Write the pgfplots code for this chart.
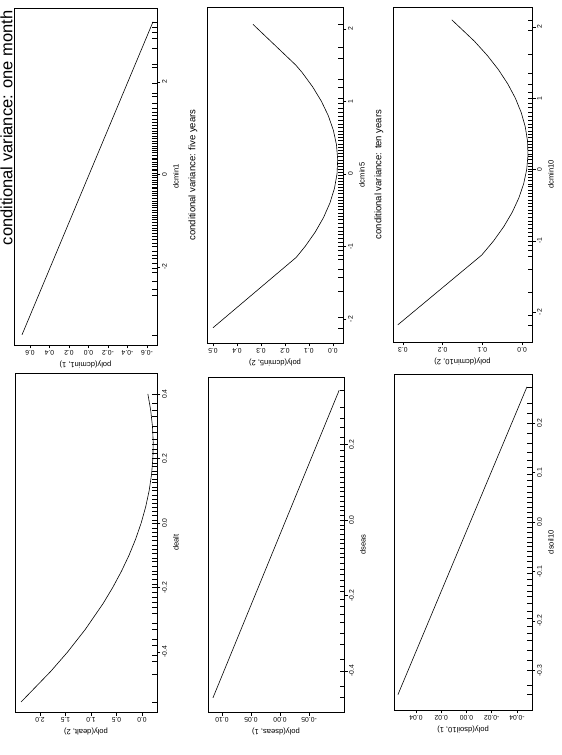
\documentclass[border=0pt]{standalone}
\usepackage{pgfplots}
\pgfplotsset{compat=1.18}
\usepackage{fontspec}
\setmainfont{Liberation Sans}
\pgfdeclareplotmark{rug}{\pgfpathmoveto{\pgfqpoint{0pt}{0pt}}\pgfpathlineto{\pgfqpoint{-4.5pt}{0pt}}\pgfusepathqstroke}
\newcommand\tickfont{\fontsize{6.8}{7.5}\selectfont}
\newcommand\labfont{\fontsize{7.6}{9}\selectfont}
\newcommand\titfont{\fontsize{9.5}{11}\selectfont}
\pgfplotsset{
  panel/.style={
    scale only axis, anchor=south west, x dir=reverse,
    axis line style={line width=0.7pt},
    xtick pos=left, ytick pos=right, yticklabel pos=right,
    tick align=outside, major tick length=3.5pt,
    tick style={black, line width=0.5pt},
    xticklabel style={font=\tickfont, rotate=180, anchor=south, inner sep=1.5pt},
    yticklabel style={font=\tickfont, rotate=90, anchor=north, inner sep=1.5pt},
    scaled ticks=false, clip=false,
  },
  curve/.style={black, line width=0.6pt, mark=none},
  rugs/.style={black, only marks, mark=rug, mark options={line width=0.5pt}},
}
\begin{document}
\begin{tikzpicture}
\path[use as bounding box] (0,0) rectangle (562pt,755pt);

% A: dcmin1
\begin{axis}[panel, at={(14pt,410pt)}, width=143pt, height=337pt,
  xmin=-0.703, xmax=0.764, ymin=-3.69, ymax=3.60,
  xtick={0.6,0.4,0.2,0,-0.2,-0.4,-0.6}, xticklabels={0.6,0.4,0.2,0.0,-0.2,-0.4,-0.6},
  ytick={-2,0,2}, yticklabels={-2,0,2}]
\addplot[curve] coordinates {(0.682,-3.47) (-0.662,3.30)};
\addplot[rugs] coordinates {
(-0.703,-3.47) (-0.703,-2.62) (-0.703,-2.48) (-0.703,-2.31) (-0.703,-2.12) (-0.703,-2.02) (-0.703,-1.93) (-0.703,-1.81) (-0.703,-1.74) (-0.703,-1.66) (-0.703,-1.55) (-0.703,-1.49) (-0.703,-1.41) (-0.703,-1.33) (-0.703,-1.27) (-0.703,-1.21) (-0.703,-1.16) (-0.703,-1.09) (-0.703,-1.04) (-0.703,-0.98) (-0.703,-0.93) (-0.703,-0.88) (-0.703,-0.82) (-0.703,-0.77) (-0.703,-0.71) (-0.703,-0.66) (-0.703,-0.62) (-0.703,-0.57) (-0.703,-0.51) (-0.703,-0.46) (-0.703,-0.41) (-0.703,-0.37) (-0.703,-0.31) (-0.703,-0.27) (-0.703,-0.22) (-0.703,-0.16) (-0.703,-0.12) (-0.703,-0.07) (-0.703,-0.02) (-0.703,0.03) (-0.703,0.08) (-0.703,0.12) (-0.703,0.17) (-0.703,0.21) (-0.703,0.26) (-0.703,0.32) (-0.703,0.36) (-0.703,0.41) (-0.703,0.47) (-0.703,0.52) (-0.703,0.56) (-0.703,0.61) (-0.703,0.67) (-0.703,0.72) (-0.703,0.78) (-0.703,0.83) (-0.703,0.88) (-0.703,0.94) (-0.703,0.99) (-0.703,1.06) (-0.703,1.12) (-0.703,1.19) (-0.703,1.27) (-0.703,1.34) (-0.703,1.43) (-0.703,1.55) (-0.703,1.68) (-0.703,1.76) (-0.703,1.98) (-0.703,2.31) (-0.703,2.38) (-0.703,2.72) (-0.703,2.95) (-0.703,3.08) (-0.703,3.18) (-0.703,3.30)};
\node[font=\labfont, yshift=-19pt, rotate=180] at (axis description cs:0.5,0) {poly(dcmin1, 1)};
\node[font=\labfont, xshift=19pt, rotate=90] at (axis description cs:1,0.5) {dcmin1};
\node[font=\fontsize{16.5}{18}\selectfont, xshift=-1.5pt, rotate=90, anchor=base, inner sep=0pt] at (axis description cs:0,0.644) {conditional variance: one month};
\end{axis}

% B: dcmin5
\begin{axis}[panel, at={(207pt,412pt)}, width=136pt, height=336pt,
  xmin=-0.042, xmax=0.525, ymin=-2.33, ymax=2.30,
  xtick={0.5,0.4,0.3,0.2,0.1,0}, xticklabels={0.5,0.4,0.3,0.2,0.1,0.0},
  ytick={-2,-1,0,1,2}, yticklabels={-2,-1,0,1,2}]
\addplot[curve] coordinates {(0.500,-2.12) (0.153,-1.15) (0.116,-1.0) (0.0735,-0.8) (0.039,-0.6) (0.0124,-0.4) (-0.0063,-0.2) (-0.0171,0) (-0.0199,0.2) (-0.0149,0.4) (-0.0019,0.6) (0.019,0.8) (0.0479,1.0) (0.0846,1.2) (0.129,1.4) (0.155,1.5) (0.333,2.06)};
\addplot[rugs] coordinates {
(-0.042,-2.12) (-0.042,-1.98) (-0.042,-1.62) (-0.042,-1.43) (-0.042,-1.31) (-0.042,-1.18) (-0.042,-1.12) (-0.042,-1.05) (-0.042,-0.99) (-0.042,-0.94) (-0.042,-0.88) (-0.042,-0.83) (-0.042,-0.79) (-0.042,-0.73) (-0.042,-0.68) (-0.042,-0.63) (-0.042,-0.59) (-0.042,-0.54) (-0.042,-0.49) (-0.042,-0.45) (-0.042,-0.41) (-0.042,-0.36) (-0.042,-0.32) (-0.042,-0.27) (-0.042,-0.23) (-0.042,-0.19) (-0.042,-0.14) (-0.042,-0.10) (-0.042,-0.06) (-0.042,-0.02) (-0.042,0.02) (-0.042,0.07) (-0.042,0.11) (-0.042,0.15) (-0.042,0.19) (-0.042,0.24) (-0.042,0.28) (-0.042,0.33) (-0.042,0.37) (-0.042,0.41) (-0.042,0.46) (-0.042,0.50) (-0.042,0.55) (-0.042,0.59) (-0.042,0.64) (-0.042,0.69) (-0.042,0.74) (-0.042,0.79) (-0.042,0.85) (-0.042,0.91) (-0.042,0.97) (-0.042,1.04) (-0.042,1.19) (-0.042,1.30) (-0.042,1.60) (-0.042,1.75) (-0.042,2.06)};
\node[font=\labfont, yshift=-19pt, rotate=180] at (axis description cs:0.5,0) {poly(dcmin5, 2)};
\node[font=\labfont, xshift=19pt, rotate=90] at (axis description cs:1,0.5) {dcmin5};
\node[font=\titfont, xshift=-14pt, rotate=90] at (axis description cs:0,0.5) {conditional variance: five years};
\end{axis}

% C: dcmin10
\begin{axis}[panel, at={(393pt,413pt)}, width=139pt, height=335pt,
  xmin=-0.025, xmax=0.325, ymin=-2.42, ymax=2.28,
  xtick={0.3,0.2,0.1,0}, xticklabels={0.3,0.2,0.1,0.0},
  ytick={-2,-1,0,1,2}, yticklabels={-2,-1,0,1,2}]
\addplot[curve] coordinates {(0.313,-2.18) (0.1015,-1.2) (0.0715,-1.0) (0.0459,-0.8) (0.0248,-0.6) (0.0082,-0.4) (-0.004,-0.2) (-0.0117,0) (-0.0149,0.2) (-0.0137,0.4) (-0.008,0.6) (0.0022,0.8) (0.0168,1.0) (0.0359,1.2) (0.0594,1.4) (0.0875,1.6) (0.120,1.8) (0.177,2.10)};
\addplot[rugs] coordinates {
(-0.025,-2.18) (-0.025,-2.05) (-0.025,-1.72) (-0.025,-1.40) (-0.025,-1.22) (-0.025,-1.13) (-0.025,-1.06) (-0.025,-1.00) (-0.025,-0.94) (-0.025,-0.88) (-0.025,-0.83) (-0.025,-0.77) (-0.025,-0.72) (-0.025,-0.67) (-0.025,-0.62) (-0.025,-0.57) (-0.025,-0.52) (-0.025,-0.47) (-0.025,-0.43) (-0.025,-0.38) (-0.025,-0.33) (-0.025,-0.29) (-0.025,-0.24) (-0.025,-0.20) (-0.025,-0.15) (-0.025,-0.11) (-0.025,-0.07) (-0.025,-0.03) (-0.025,0.01) (-0.025,0.05) (-0.025,0.09) (-0.025,0.14) (-0.025,0.18) (-0.025,0.22) (-0.025,0.27) (-0.025,0.31) (-0.025,0.36) (-0.025,0.40) (-0.025,0.45) (-0.025,0.49) (-0.025,0.54) (-0.025,0.59) (-0.025,0.64) (-0.025,0.69) (-0.025,0.75) (-0.025,0.81) (-0.025,0.87) (-0.025,0.93) (-0.025,1.00) (-0.025,1.08) (-0.025,1.20) (-0.025,1.35) (-0.025,1.62) (-0.025,1.95) (-0.025,2.10)};
\node[font=\labfont, yshift=-19pt, rotate=180] at (axis description cs:0.5,0) {poly(dcmin10, 2)};
\node[font=\labfont, xshift=19pt, rotate=90] at (axis description cs:1,0.5) {dcmin10};
\node[font=\titfont, xshift=-14pt, rotate=90] at (axis description cs:0,0.5) {conditional variance: ten years};
\end{axis}

% D: dealt
\begin{axis}[panel, at={(15pt,43pt)}, width=142pt, height=339pt,
  xmin=-0.294, xmax=2.49, ymin=-0.586, ymax=0.465,
  xtick={2,1.5,1,0.5,0}, xticklabels={2.0,1.5,1.0,0.5,0.0},
  ytick={-0.4,-0.2,0,0.2,0.4}, yticklabels={-0.4,-0.2,0.0,0.2,0.4}]
\addplot[curve] coordinates {(2.371,-0.555) (1.789,-0.46) (1.459,-0.4) (1.112,-0.33) (0.764,-0.25) (0.574,-0.2) (0.404,-0.15) (0.254,-0.1) (0.125,-0.05) (0.016,0) (-0.072,0.05) (-0.140,0.1) (-0.187,0.15) (-0.213,0.2) (-0.220,0.25) (-0.205,0.3) (-0.170,0.35) (-0.115,0.40)};
\addplot[rugs] coordinates {
(-0.294,-0.555) (-0.294,-0.47) (-0.294,-0.43) (-0.294,-0.41) (-0.294,-0.38) (-0.294,-0.36) (-0.294,-0.33) (-0.294,-0.31) (-0.294,-0.28) (-0.294,-0.26) (-0.294,-0.245) (-0.294,-0.23) (-0.294,-0.215) (-0.294,-0.2) (-0.294,-0.19) (-0.294,-0.175) (-0.294,-0.16) (-0.294,-0.15) (-0.294,-0.135) (-0.294,-0.12) (-0.294,-0.11) (-0.294,-0.095) (-0.294,-0.08) (-0.294,-0.07) (-0.294,-0.055) (-0.294,-0.04) (-0.294,-0.03) (-0.294,-0.015) (-0.294,0.0) (-0.294,0.01) (-0.294,0.025) (-0.294,0.035) (-0.294,0.05) (-0.294,0.06) (-0.294,0.075) (-0.294,0.085) (-0.294,0.1) (-0.294,0.11) (-0.294,0.125) (-0.294,0.135) (-0.294,0.15) (-0.294,0.16) (-0.294,0.175) (-0.294,0.185) (-0.294,0.2) (-0.294,0.215) (-0.294,0.23) (-0.294,0.245) (-0.294,0.26) (-0.294,0.28) (-0.294,0.3) (-0.294,0.33) (-0.294,0.35) (-0.294,0.37) (-0.294,0.40)};
\node[font=\labfont, yshift=-19pt, rotate=180] at (axis description cs:0.5,0) {poly(dealt, 2)};
\node[font=\labfont, xshift=19pt, rotate=90] at (axis description cs:1,0.5) {dealt};
\end{axis}

% E: dseas
\begin{axis}[panel, at={(208pt,43pt)}, width=136pt, height=335pt,
  xmin=-0.110, xmax=0.124, ymin=-0.509, ymax=0.379,
  xtick={0.1,0.05,0,-0.05}, xticklabels={0.10,0.05,0.00,-0.05},
  ytick={-0.4,-0.2,0,0.2}, yticklabels={-0.4,-0.2,0.0,0.2}]
\addplot[curve] coordinates {(0.1155,-0.4715) (-0.1017,0.344)};
\addplot[rugs] coordinates {
(-0.110,-0.47) (-0.110,-0.44) (-0.110,-0.40) (-0.110,-0.37) (-0.110,-0.33) (-0.110,-0.30) (-0.110,-0.27) (-0.110,-0.25) (-0.110,-0.23) (-0.110,-0.21) (-0.110,-0.19) (-0.110,-0.175) (-0.110,-0.16) (-0.110,-0.145) (-0.110,-0.13) (-0.110,-0.115) (-0.110,-0.10) (-0.110,-0.088) (-0.110,-0.075) (-0.110,-0.063) (-0.110,-0.05) (-0.110,-0.038) (-0.110,-0.025) (-0.110,-0.013) (-0.110,0.0) (-0.110,0.012) (-0.110,0.025) (-0.110,0.037) (-0.110,0.05) (-0.110,0.062) (-0.110,0.075) (-0.110,0.087) (-0.110,0.10) (-0.110,0.113) (-0.110,0.126) (-0.110,0.14) (-0.110,0.155) (-0.110,0.17) (-0.110,0.185) (-0.110,0.20) (-0.110,0.22) (-0.110,0.245) (-0.110,0.27) (-0.110,0.30) (-0.110,0.344)};
\node[font=\labfont, yshift=-19pt, rotate=180] at (axis description cs:0.5,0) {poly(dseas, 1)};
\node[font=\labfont, xshift=19pt, rotate=90] at (axis description cs:1,0.5) {dseas};
\end{axis}

% F: dsoil10
\begin{axis}[panel, at={(394pt,45pt)}, width=138pt, height=336pt,
  xmin=-0.0519, xmax=0.0574, ymin=-0.380, ymax=0.299,
  xtick={0.04,0.02,0,-0.02,-0.04}, xticklabels={0.04,0.02,0.00,-0.02,-0.04},
  ytick={-0.3,-0.2,-0.1,0,0.1,0.2,0.3}, yticklabels={-0.3,-0.2,-0.1,0.0,0.1,0.2,0.3}]
\addplot[curve] coordinates {(0.0543,-0.349) (-0.0479,0.273)};
\addplot[rugs] coordinates {
(-0.0519,-0.349) (-0.0519,-0.33) (-0.0519,-0.30) (-0.0519,-0.28) (-0.0519,-0.26) (-0.0519,-0.24) (-0.0519,-0.225) (-0.0519,-0.21) (-0.0519,-0.195) (-0.0519,-0.18) (-0.0519,-0.165) (-0.0519,-0.15) (-0.0519,-0.14) (-0.0519,-0.128) (-0.0519,-0.116) (-0.0519,-0.104) (-0.0519,-0.092) (-0.0519,-0.08) (-0.0519,-0.07) (-0.0519,-0.06) (-0.0519,-0.05) (-0.0519,-0.04) (-0.0519,-0.03) (-0.0519,-0.02) (-0.0519,-0.01) (-0.0519,0.0) (-0.0519,0.01) (-0.0519,0.02) (-0.0519,0.03) (-0.0519,0.04) (-0.0519,0.05) (-0.0519,0.06) (-0.0519,0.072) (-0.0519,0.084) (-0.0519,0.096) (-0.0519,0.11) (-0.0519,0.125) (-0.0519,0.14) (-0.0519,0.16) (-0.0519,0.18) (-0.0519,0.20) (-0.0519,0.22) (-0.0519,0.24) (-0.0519,0.273)};
\node[font=\labfont, yshift=-19pt, rotate=180] at (axis description cs:0.5,0) {poly(dsoil10, 1)};
\node[font=\labfont, xshift=19pt, rotate=90] at (axis description cs:1,0.5) {dsoil10};
\end{axis}
\end{tikzpicture}
\end{document}
